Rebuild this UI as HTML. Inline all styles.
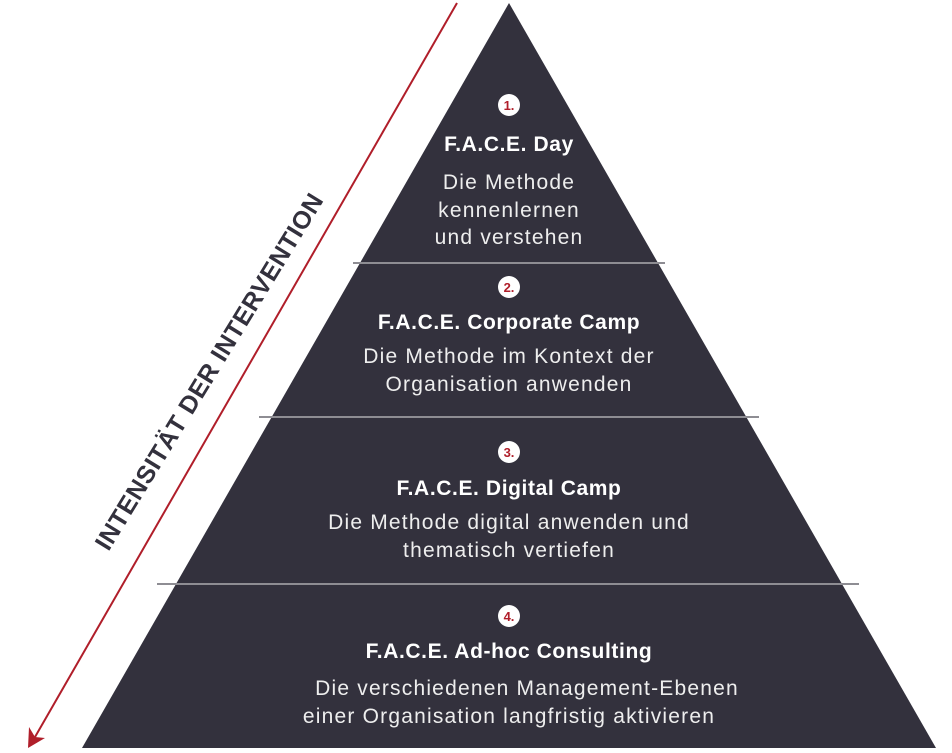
<!DOCTYPE html>
<html><head><meta charset="utf-8"><style>
body{margin:0;width:952px;height:753px;background:#fff;overflow:hidden;position:relative;font-family:"Liberation Sans",sans-serif}
.t{position:absolute;left:159px;width:700px;text-align:center;color:#fff;white-space:nowrap}
.h{font-weight:bold;font-size:21px;letter-spacing:0.6px}
.b{font-size:21px;line-height:27.5px;color:#eee;letter-spacing:1.2px}
.lab{position:absolute;left:210px;top:372px;transform:translate(-50%,-50%) rotate(-58.5deg);font-weight:bold;font-size:25px;color:#33313d;white-space:nowrap;letter-spacing:0.5px}
</style></head><body>
<svg width="952" height="753" style="position:absolute;left:0;top:0">
<polygon points="509,3 936,748 82,748" fill="#33313d"/>
<g stroke="#8e8d93" stroke-width="2">
<line x1="353" y1="263" x2="665" y2="263"/>
<line x1="259" y1="417" x2="759" y2="417"/>
<line x1="157" y1="584" x2="859" y2="584"/>
</g>
<line x1="457" y1="3" x2="35" y2="737" stroke="#b01e2a" stroke-width="2"/>
<polygon points="28,748 29,727 35,737 45,738" fill="#b01e2a"/>
<g fill="#fff"><circle cx="509" cy="105" r="11"/><circle cx="509" cy="287" r="11"/><circle cx="509" cy="452" r="11"/><circle cx="509" cy="616" r="11"/></g>
<g fill="#b01e2a" font-family="Liberation Sans" font-weight="bold" font-size="13" text-anchor="middle">
<text x="509" y="110">1.</text><text x="509" y="292">2.</text><text x="509" y="457">3.</text><text x="509" y="621">4.</text></g>
</svg>
<div class="t h" style="top:133px">F.A.C.E. Day</div>
<div class="t b" style="top:169px">Die Methode<br>kennenlernen<br>und verstehen</div>
<div class="t h" style="top:311px">F.A.C.E. Corporate Camp</div>
<div class="t b" style="top:343px">Die Methode im Kontext der<br>Organisation anwenden</div>
<div class="t h" style="top:477px">F.A.C.E. Digital Camp</div>
<div class="t b" style="top:509px">Die Methode digital anwenden und<br>thematisch vertiefen</div>
<div class="t h" style="top:640px">F.A.C.E. Ad-hoc Consulting</div>
<div class="t b" style="top:675px"><span style="position:relative;left:18px">Die verschiedenen Management-Ebenen</span><br>einer Organisation langfristig aktivieren</div>
<div class="lab">INTENSITÄT DER INTERVENTION</div>
</body></html>
